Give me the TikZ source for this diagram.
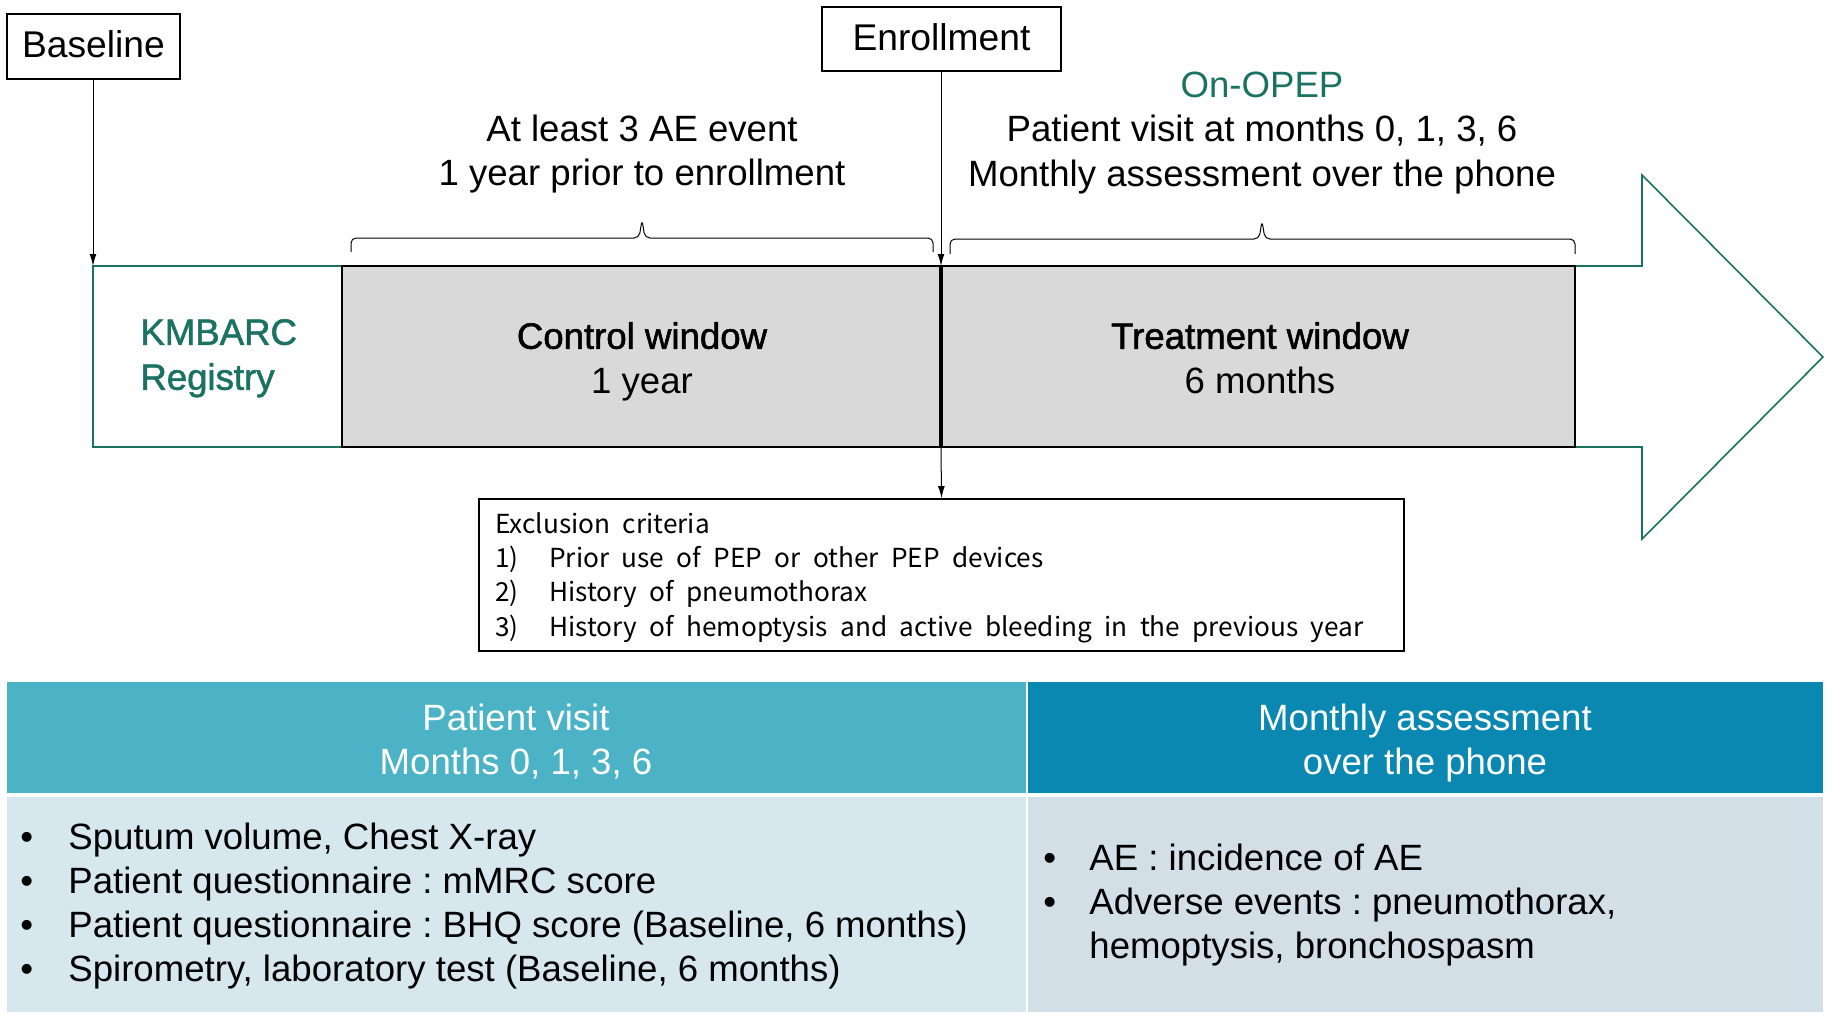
\documentclass[tikz,border=0pt]{standalone}
\usepackage{fontspec}
\setmainfont{Liberation Sans}
\newfontfamily\krfont{Noto Sans CJK KR}
\newfontfamily\semib[FakeBold=1.5]{Liberation Sans}
\newcommand\exfont{\krfont\fontsize{13.1}{15}\selectfont\spaceskip=6.2pt\relax}
\frenchspacing
\usetikzlibrary{arrows.meta}
\definecolor{dgreen}{HTML}{1B7262}
\definecolor{hdrA}{HTML}{4BB3C5}
\definecolor{hdrB}{HTML}{0A88B1}
\definecolor{bodyA}{HTML}{D6E8ED}
\definecolor{bodyB}{HTML}{D3DFE7}
\definecolor{winfill}{HTML}{D9D9D9}
\begin{document}
\begin{tikzpicture}[x=0.5pt,y=-0.5pt,
  txt/.style={inner sep=0pt,text height=15.4pt,text depth=3.66pt},
  main/.style={txt,font=\frenchspacing\fontsize{18.3}{21}\selectfont},
  semi/.style={txt,font=\semib\fontsize{18.3}{21}\selectfont},
  lbl/.style={draw,line width=0.8pt,inner sep=0pt,text height=13pt,text depth=2pt,font=\fontsize{18.6}{21}\selectfont},
  excl/.style={inner sep=0pt,text height=9pt,text depth=2pt,anchor=west,font=\exfont},
  hdr/.style={main,text=white},
  win/.style={draw=black,line width=0.75pt,fill=winfill,inner sep=0pt,minimum height=90.5pt},
  arr/.style={line width=0.5pt,-{Latex[length=6pt,width=3.4pt]}},
  brace/.style={line width=0.5pt,rounded corners=2.5pt},
  bul/.style={main,anchor=west}]
\useasboundingbox (0,0) rectangle (1831,1014);

% arrow band outline
\draw[dgreen,line width=0.8pt,fill=white] (93,266) -- (1642,266) -- (1642,175) -- (1823,357)
  -- (1642,539) -- (1642,447) -- (93,447) -- cycle;

% windows
\node[win,minimum width=299pt] (ctrl) at (641,356.5) {};
\node[win,minimum width=316.5pt] (treat) at (1258.5,356.5) {};

\node[semi,anchor=west,text=dgreen] (reg1) at (140,333) {KMBARC};
\node[semi,anchor=west,text=dgreen] (reg2) at (140,378) {Registry};
\node[semi] (ctrlA) at (642,337) {Control window};
\node[main] (ctrlB) at (642,382) {1 year};
\node[semi] (treatA) at (1260,337) {Treatment window};
\node[main] (treatB) at (1260,382) {6 months};

% top labels
\node[lbl,minimum width=86.5pt,minimum height=32.5pt] (base) at (93.5,46.5) {Baseline};
\node[lbl,minimum width=119.5pt,minimum height=32pt] (enr) at (941.5,39) {Enrollment};

\coordinate (btip) at (93,266);
\coordinate (etip) at (941,266);
\coordinate (eout) at (941,447);
\draw[arr] (base.south -| btip) -- (btip);
\draw[arr] (enr.south -| etip) -- (etip);

% texts above
\node[main] (ae1) at (642,130) {At least 3 AE event};
\node[main] (ae2) at (642,174) {1 year prior to enrollment};
\node[main,text=dgreen] (op0) at (1262,86) {On-OPEP};
\node[main] (op1) at (1262,130) {Patient visit at months 0, 1, 3, 6};
\node[main] (op2) at (1262,175) {Monthly assessment over the phone};

% braces
\coordinate (bL) at (351,252);
\coordinate (bR) at (933,252);
\draw[brace] (bL) -- (351,238) -- (639,238) -- (642,220) -- (645,238) -- (933,238) -- (bR);
\coordinate (cL) at (950,254);
\coordinate (cR) at (1575,254);
\draw[brace] (cL) -- (950,239) -- (1259,239) -- (1262,221) -- (1265,239) -- (1575,239) -- (cR);

% exclusion box
\node[draw,line width=0.8pt,inner sep=0pt,minimum width=462.5pt,minimum height=76pt] (ex) at (941.5,575) {};
\draw[arr] (eout) -- (ex.north);
\node[excl] (ex0) at (495,526) {Exclusion criteria};
\node[excl] (ex1) at (495,560) {\makebox[27pt][l]{1)}Prior use of PEP or other PEP devices};
\node[excl] (ex2) at (495,594) {\makebox[27pt][l]{2)}History of pneumothorax};
\node[excl] (ex3) at (495,629) {\makebox[27pt][l]{3)}History of hemoptysis and active bleeding in the previous year};

% bottom table
\fill[hdrA] (7,682) rectangle (1026,793);
\fill[hdrB] (1028,682) rectangle (1823,793);
\fill[bodyA] (7,797) rectangle (1026,1012);
\fill[bodyB] (1028,797) rectangle (1823,1012);

\node[hdr] (hA1) at (516,719) {Patient visit};
\node[hdr] (hA2) at (516,763) {Months 0, 1, 3, 6};
\node[hdr] (hB1) at (1425,719) {Monthly assessment};
\node[hdr] (hB2) at (1425,763) {over the phone};

\foreach \y/\t [count=\i] in {838/{Sputum volume, Chest X-ray},
  882/{Patient questionnaire : mMRC score},
  926/{Patient questionnaire : BHQ score (Baseline, 6 months)},
  970/{Spirometry, laboratory test (Baseline, 6 months)}}{
  \node[bul] (lb\i) at (20,\y) {•};
  \node[bul] (lt\i) at (68,\y) {\t};
}
\node[bul] (rb1) at (1043,859) {•};
\node[bul] (rt1) at (1089,859) {AE : incidence of AE};
\node[bul] (rb2) at (1043,903) {•};
\node[bul] (rt2) at (1089,903) {Adverse events : pneumothorax,};
\node[bul] (rt3) at (1089,947) {hemoptysis, bronchospasm};
\end{tikzpicture}
\end{document}
